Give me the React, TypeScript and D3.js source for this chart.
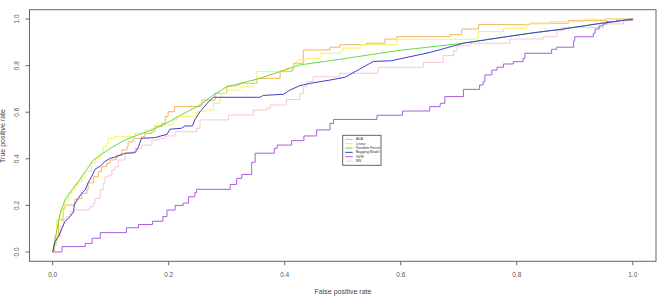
import { useMemo } from 'react'
import * as d3 from 'd3'

const WIDTH = 662
const HEIGHT = 303
// plot box (R style: axes extend 4% past the data range)
const BOX = { left: 29.5, right: 656, top: 9.7, bottom: 261.3 }

type Pt = [number, number]

const MODELS = ['ADA', 'Linear', 'Random Forest', 'Bagging Model', 'SVM', 'NN']
const COLORS = ['#f2b65c', '#f6f06a', '#62de3e', '#4040cc', '#a85ee0', '#f8c6d0']
const STEPPED = [true, true, false, false, true, true]

const ada: Pt[] = [
  [0, 0], [0.003, 0.03], [0.004, 0.066], [0.01, 0.137], [0.018, 0.188], [0.021, 0.202],
  [0.038, 0.226], [0.044, 0.23], [0.05, 0.252], [0.059, 0.266], [0.061, 0.297], [0.07, 0.323],
  [0.079, 0.345], [0.084, 0.366], [0.093, 0.381], [0.099, 0.395], [0.107, 0.398], [0.11, 0.416],
  [0.119, 0.438], [0.128, 0.452], [0.13, 0.473], [0.139, 0.488], [0.153, 0.495], [0.159, 0.509],
  [0.171, 0.516], [0.176, 0.538], [0.188, 0.552], [0.194, 0.581], [0.199, 0.602], [0.21, 0.624],
  [0.257, 0.652], [0.28, 0.681], [0.3, 0.712], [0.317, 0.717], [0.323, 0.724], [0.352, 0.745],
  [0.392, 0.774], [0.412, 0.781], [0.415, 0.81], [0.432, 0.867], [0.478, 0.879], [0.495, 0.89],
  [0.541, 0.896], [0.573, 0.914], [0.593, 0.924], [0.685, 0.933], [0.705, 0.957], [0.734, 0.976],
  [0.823, 0.982], [0.889, 0.993], [0.955, 1], [1, 1],
]

const linear: Pt[] = [
  [0, 0], [0.001, 0.037], [0.007, 0.137], [0.013, 0.18], [0.021, 0.223], [0.027, 0.252],
  [0.033, 0.266], [0.038, 0.288], [0.044, 0.302], [0.05, 0.323], [0.056, 0.345], [0.067, 0.381],
  [0.073, 0.402], [0.082, 0.424], [0.087, 0.452], [0.093, 0.466], [0.096, 0.488], [0.107, 0.495],
  [0.142, 0.51], [0.159, 0.524], [0.171, 0.531], [0.176, 0.545], [0.208, 0.567], [0.214, 0.581],
  [0.248, 0.602], [0.263, 0.609], [0.277, 0.638], [0.288, 0.66], [0.291, 0.681], [0.3, 0.695],
  [0.323, 0.709], [0.346, 0.738], [0.352, 0.774], [0.392, 0.778], [0.403, 0.788], [0.415, 0.803],
  [0.421, 0.824], [0.438, 0.831], [0.461, 0.853], [0.495, 0.86], [0.5, 0.875], [0.53, 0.89],
  [0.593, 0.913], [0.731, 0.921], [0.734, 0.946], [0.777, 0.96], [0.817, 0.979], [0.857, 0.989],
  [0.915, 0.999], [1, 1],
]

const randomForest: Pt[] = [
  [0, 0], [0.001, 0.009], [0.007, 0.094], [0.013, 0.166], [0.021, 0.223], [0.033, 0.266],
  [0.044, 0.302], [0.056, 0.345], [0.07, 0.395], [0.087, 0.424], [0.104, 0.452], [0.125, 0.481],
  [0.142, 0.498], [0.171, 0.524], [0.194, 0.55], [0.219, 0.585], [0.254, 0.631], [0.277, 0.674],
  [0.3, 0.709], [0.357, 0.745], [0.426, 0.803], [0.495, 0.827], [0.593, 0.864], [0.697, 0.893],
  [0.766, 0.918], [0.823, 0.939], [0.88, 0.957], [0.938, 0.979], [1, 1],
]

const bagging: Pt[] = [
  [0, 0], [0.004, 0.044], [0.01, 0.066], [0.016, 0.102], [0.021, 0.13], [0.03, 0.152],
  [0.036, 0.173], [0.037, 0.202], [0.044, 0.23], [0.05, 0.252], [0.056, 0.266], [0.061, 0.297],
  [0.067, 0.323], [0.073, 0.355], [0.082, 0.369], [0.09, 0.388], [0.099, 0.402], [0.11, 0.409],
  [0.125, 0.424], [0.142, 0.426], [0.148, 0.452], [0.153, 0.488], [0.176, 0.491], [0.197, 0.505],
  [0.202, 0.527], [0.222, 0.531], [0.228, 0.541], [0.241, 0.541], [0.245, 0.567], [0.254, 0.602],
  [0.266, 0.638], [0.277, 0.664], [0.357, 0.664], [0.363, 0.672], [0.398, 0.677], [0.409, 0.695],
  [0.426, 0.714], [0.444, 0.724], [0.461, 0.731], [0.478, 0.738], [0.504, 0.75], [0.553, 0.818],
  [0.584, 0.821], [0.651, 0.857], [0.708, 0.896], [0.766, 0.918], [0.823, 0.939], [0.88, 0.957],
  [0.938, 0.979], [0.972, 0.99], [1, 1],
]

const svm: Pt[] = [
  [0, 0], [0.016, 0.023], [0.056, 0.037], [0.068, 0.059], [0.082, 0.083], [0.127, 0.104],
  [0.148, 0.118], [0.172, 0.132], [0.19, 0.152], [0.197, 0.18], [0.211, 0.2], [0.225, 0.21],
  [0.234, 0.237], [0.245, 0.255], [0.248, 0.269], [0.306, 0.29], [0.317, 0.316], [0.326, 0.333],
  [0.343, 0.385], [0.349, 0.424], [0.382, 0.445], [0.387, 0.459], [0.412, 0.478], [0.433, 0.498],
  [0.455, 0.524], [0.478, 0.552], [0.484, 0.569], [0.559, 0.587], [0.603, 0.605], [0.65, 0.624],
  [0.668, 0.638], [0.676, 0.667], [0.708, 0.698], [0.736, 0.717], [0.742, 0.731], [0.745, 0.76],
  [0.757, 0.781], [0.766, 0.793], [0.777, 0.807], [0.794, 0.817], [0.811, 0.831], [0.814, 0.853],
  [0.86, 0.87], [0.869, 0.879], [0.898, 0.907], [0.9, 0.924], [0.932, 0.939], [0.935, 0.957],
  [0.942, 0.971], [0.949, 0.979], [0.955, 0.989], [0.972, 0.996], [1, 1],
]

const nn: Pt[] = [
  [0, 0], [0.003, 0.03], [0.007, 0.066], [0.013, 0.109], [0.018, 0.137], [0.024, 0.152],
  [0.03, 0.173], [0.036, 0.18], [0.064, 0.194], [0.07, 0.209], [0.073, 0.23], [0.082, 0.266],
  [0.087, 0.295], [0.09, 0.323], [0.096, 0.33], [0.102, 0.352], [0.107, 0.366], [0.113, 0.395],
  [0.125, 0.424], [0.136, 0.43], [0.142, 0.445], [0.153, 0.459], [0.171, 0.481], [0.182, 0.488],
  [0.194, 0.498], [0.211, 0.516], [0.248, 0.531], [0.254, 0.567], [0.303, 0.588], [0.346, 0.609],
  [0.369, 0.617], [0.375, 0.631], [0.403, 0.655], [0.426, 0.681], [0.432, 0.709], [0.438, 0.731],
  [0.449, 0.752], [0.495, 0.767], [0.561, 0.793], [0.639, 0.814], [0.673, 0.843], [0.691, 0.864],
  [0.697, 0.885], [0.72, 0.896], [0.788, 0.914], [0.846, 0.924], [0.869, 0.95], [0.88, 0.964],
  [0.949, 0.979], [0.984, 0.993], [1, 1],
]

const SERIES = [ada, linear, randomForest, bagging, svm, nn]
const TICKS = [0, 0.2, 0.4, 0.6, 0.8, 1.0]

const FONT = '"Liberation Sans", Arial, sans-serif'

export default function App() {
  const x = d3.scaleLinear().domain([-0.04, 1.04]).range([BOX.left, BOX.right])
  const y = d3.scaleLinear().domain([-0.04, 1.04]).range([BOX.bottom, BOX.top])

  const paths = useMemo(() => {
    return SERIES.map((pts, i) => {
      const line = d3.line<Pt>()
        .x(d => x(d[0]))
        .y(d => y(d[1]))
        .curve(STEPPED[i] ? d3.curveStepAfter : d3.curveLinear)
      return line(pts) || ''
    })
  }, [])

  const fmt = d3.format('.1f')
  // draw order: bottom to top as in the reference
  const order = [5, 4, 0, 1, 2, 3]

  const legend = { x: 342.7, y: 135.3, w: 38.3, h: 30, row: 4.35 }

  return (
    <svg
      width={WIDTH}
      height={HEIGHT}
      style={{ position: 'absolute', left: 0, top: 0, background: '#fff' }}
      fontFamily={FONT}
    >
      {/* curves */}
      {order.map(i => (
        <path key={MODELS[i]} d={paths[i]} fill="none" stroke={COLORS[i]} strokeWidth={1} />
      ))}

      {/* box */}
      <rect
        x={BOX.left}
        y={BOX.top}
        width={BOX.right - BOX.left}
        height={BOX.bottom - BOX.top}
        fill="none"
        stroke="#666"
        strokeWidth={1}
      />

      {/* x axis */}
      {TICKS.map(t => (
        <g key={`x${t}`}>
          <line x1={x(t)} x2={x(t)} y1={BOX.bottom} y2={BOX.bottom + 4} stroke="#666" />
          <text x={x(t)} y={BOX.bottom + 15.5} textAnchor="middle" fontSize={6.5} fill="#555">
            {fmt(t)}
          </text>
        </g>
      ))}
      <text x={343} y={294} textAnchor="middle" fontSize={7} fill="#444">False positive rate</text>

      {/* y axis */}
      {TICKS.map(t => (
        <g key={`y${t}`}>
          <line x1={BOX.left - 4} x2={BOX.left} y1={y(t)} y2={y(t)} stroke="#666" />
          <text
            transform={`translate(${BOX.left - 10.5}, ${y(t)}) rotate(-90)`}
            textAnchor="middle"
            fontSize={6.5}
            fill="#555"
          >
            {fmt(t)}
          </text>
        </g>
      ))}
      <text transform="translate(5, 136) rotate(-90)" textAnchor="middle" fontSize={7} fill="#444">
        True positive rate
      </text>

      {/* legend */}
      <rect x={legend.x} y={legend.y} width={legend.w} height={legend.h} fill="#fff" stroke="#555" strokeWidth={0.9} />
      {MODELS.map((m, i) => {
        const ly = legend.y + 4 + i * legend.row
        return (
          <g key={m}>
            <line x1={legend.x + 2.5} x2={legend.x + 10} y1={ly} y2={ly} stroke={COLORS[i]} strokeWidth={1} />
            <text x={legend.x + 13.3} y={ly} dominantBaseline="central" fontSize={3.5} fill="#333">{m}</text>
          </g>
        )
      })}
    </svg>
  )
}
